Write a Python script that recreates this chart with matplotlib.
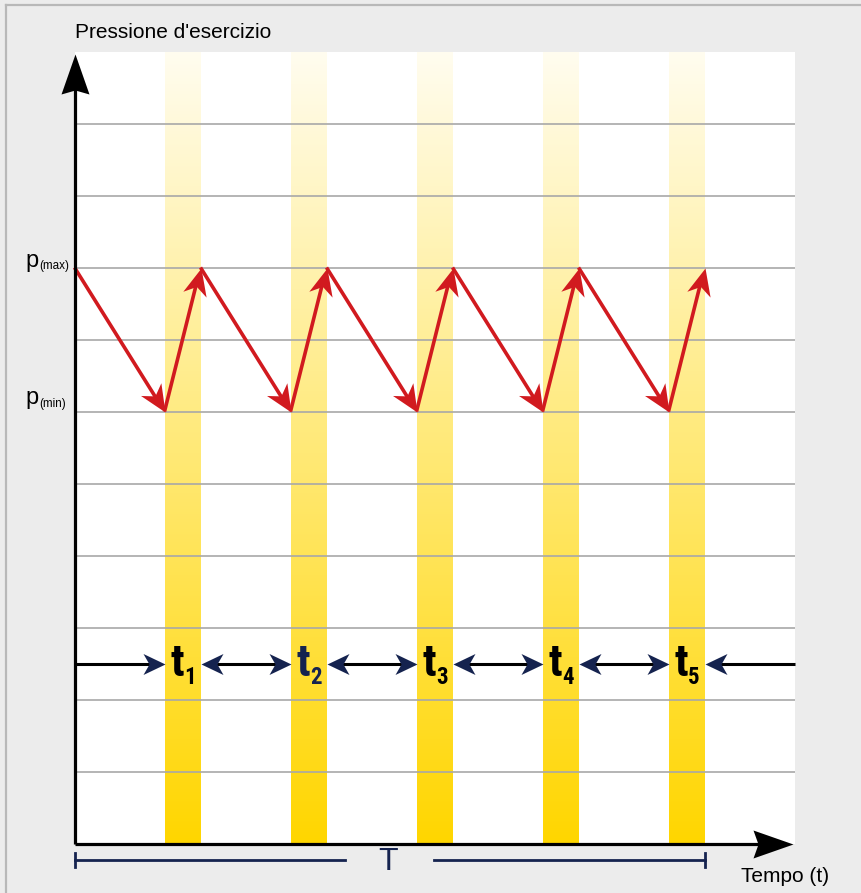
import numpy as np
import matplotlib
matplotlib.use("Agg")
import matplotlib.pyplot as plt
import matplotlib.transforms as mtransforms
from matplotlib.path import Path
from matplotlib.lines import Line2D

# ---------------- data ----------------
band_labels = ["1", "2", "3", "4", "5"]
band_start = [5, 12, 19, 26, 33]
band_end = [7, 14, 21, 28, 35]
grid_levels = [1, 2, 3, 4, 5, 6, 7, 8, 9, 10]
p_max = 8
p_min = 6
saw_x = [0, 5, 7, 12, 14, 19, 21, 26, 28, 33, 35]
saw_y = [8, 6, 8, 6, 8, 6, 8, 6, 8, 6, 8]
time_arrow_level = 2.5
x_max = 40
y_max = 11
period_start = 0
period_end = 35

# ---------------- style ----------------
W, H, DPI = 861, 893, 100
RED = "#d11a1f"
NAVY = "#15234f"
GRID = "#a8a8a8"
GOLD = np.array([255, 214, 0]) / 255.0
label_colors = ["black", NAVY, "black", "black", "black"]

fig = plt.figure(figsize=(W / DPI, H / DPI), dpi=DPI, facecolor="#ececec")
ax = fig.add_axes([74.5 / W, (H - 843.5) / H, 720 / W, 792 / H])
ax.set_xlim(0, x_max)
ax.set_ylim(0, y_max)
ax.set_facecolor("white")
for s in ax.spines.values():
    s.set_visible(False)
ax.set_xticks([])
ax.set_yticks([])


def fx(px):
    return px / W


def fy(py):
    return 1 - py / H


# outer frame lines
fig.add_artist(Line2D([fx(6), 1], [fy(5), fy(5)], color="#b8b8b8", lw=1.6))
fig.add_artist(Line2D([fx(6), fx(6)], [fy(5), 0], color="#b8b8b8", lw=1.6))

# gradient bands
n = 256
a = np.linspace(0.06, 1.0, n)
img = np.ones((n, 1, 4))
for k in range(3):
    img[:, 0, k] = 1 - a * (1 - GOLD[k])
for s, e in zip(band_start, band_end):
    ax.imshow(img, extent=(s, e, 0, y_max), aspect="auto", origin="upper",
              interpolation="bilinear", zorder=1)
ax.set_xlim(0, x_max)
ax.set_ylim(0, y_max)

# grid lines
for lv in grid_levels:
    ax.plot([0, x_max], [lv, lv], color=GRID, lw=1.2, zorder=2,
            solid_capstyle="butt")


def head(tip, tail, color, L, Wd, notch, z):
    p1 = ax.transData.transform(tip)
    p0 = ax.transData.transform(tail)
    d = p1 - p0
    ang = np.arctan2(d[1], d[0])
    c, s_ = np.cos(ang), np.sin(ang)
    base = np.array([[0, 0], [-L, Wd], [-L + notch, 0], [-L, -Wd], [0, 0]], float)
    R = np.array([[c, -s_], [s_, c]])
    v = base @ R.T
    M = np.abs(v).max()
    path = Path(v, [Path.MOVETO, Path.LINETO, Path.LINETO, Path.LINETO, Path.CLOSEPOLY])
    ax.plot([tip[0]], [tip[1]], marker=path, markersize=2 * M * 72 / DPI,
            color=color, mew=0, linestyle="none", zorder=z, clip_on=False)


def arrow(tail, tip, lcolor, hcolor, lw, L, Wd, notch, z, double=False):
    p0 = ax.transData.transform(tail)
    p1 = ax.transData.transform(tip)
    u = (p1 - p0) / np.hypot(*(p1 - p0))
    q1 = p1 - u * (L * 0.6)
    q0 = p0 + u * (L * 0.6) if double else p0
    inv = ax.transData.inverted()
    a0 = inv.transform(q0)
    a1 = inv.transform(q1)
    ax.plot([a0[0], a1[0]], [a0[1], a1[1]], color=lcolor, lw=lw, zorder=z,
            solid_capstyle="butt", clip_on=False)
    head(tip, tail, hcolor, L, Wd, notch, z + 0.1)
    if double:
        head(tail, tip, hcolor, L, Wd, notch, z + 0.1)


# time arrows
y = time_arrow_level
arrow((0, y), (band_start[0], y), "black", NAVY, 2.2, 22, 10.5, 6, 3)
for i in range(len(band_start) - 1):
    arrow((band_end[i], y), (band_start[i + 1], y), "black", NAVY, 2.2, 22, 10.5, 6, 3,
          double=True)
arrow((x_max, y), (band_end[-1], y), "black", NAVY, 2.2, 22, 10.5, 6, 3)

# saw-tooth pressure arrows
for i in range(len(saw_x) - 1):
    arrow((saw_x[i], saw_y[i]), (saw_x[i + 1], saw_y[i + 1]), RED, RED, 2.6,
          27, 12, 8, 4)

# axes with arrows
arrow((0, 0), (0, y_max - 0.04), "black", "black", 2.3, 40, 14, 4, 5)
arrow((0, 0), (x_max - 0.1, 0), "black", "black", 2.3, 40, 14, 5, 5)

# t labels
tfont = ["Roboto Condensed", "Open Sans Condensed", "DejaVu Sans"]
off_t = mtransforms.ScaledTranslation(0, -13 / DPI, fig.dpi_scale_trans)
off_s = mtransforms.ScaledTranslation(0, -21 / DPI, fig.dpi_scale_trans)
for lab, s, e, col in zip(band_labels, band_start, band_end, label_colors):
    cx = (s + e) / 2 + 0.08
    ax.text(cx, y, "t", ha="right", va="baseline", fontsize=32, fontweight="bold",
            family=tfont, fontstretch="condensed", color=col, zorder=6,
            transform=ax.transData + off_t)
    ax.text(cx, y, lab, ha="left", va="baseline", fontsize=16.5, fontweight="bold",
            family=tfont, fontstretch="condensed", color=col, zorder=6,
            transform=ax.transData + off_s)

# period bracket
yb = 860
lbl_gap = 2.5
mid = (period_start + period_end) / 2
for x0, x1 in [(period_start, mid - lbl_gap), (mid + lbl_gap, period_end)]:
    fig.add_artist(Line2D([fx(74.5 + x0 * 18), fx(74.5 + x1 * 18)], [fy(yb), fy(yb)],
                          color=NAVY, lw=2.0))
for xe in [period_start, period_end]:
    fig.add_artist(Line2D([fx(74.5 + xe * 18), fx(74.5 + xe * 18)], [fy(yb - 7), fy(yb + 7)],
                          color=NAVY, lw=2.0))
fig.text(fx(74.5 + mid * 18 - 1), fy(862), "T", ha="center", va="center", fontsize=23,
         family="Liberation Sans", color=NAVY)

# axis titles
fig.text(fx(75), fy(38), "Pressione d'esercizio", ha="left", va="baseline",
         fontsize=15, family="Liberation Sans", color="black")
fig.text(fx(741), fy(882), "Tempo (t)", ha="left", va="baseline",
         fontsize=15, family="Liberation Sans", color="black")

# p labels
for lv, sub, base_p, base_s in [(p_max, "(max)", 267, 269), (p_min, "(min)", 404, 407)]:
    fig.text(fx(39), fy(base_p), "p", ha="right", va="baseline", fontsize=17,
             family="Liberation Sans", color="black")
    fig.text(fx(39.5), fy(base_s), sub, ha="left", va="baseline", fontsize=8.4,
             family="Liberation Sans", color="black")

fig.savefig("out.png", dpi=DPI, facecolor=fig.get_facecolor())
